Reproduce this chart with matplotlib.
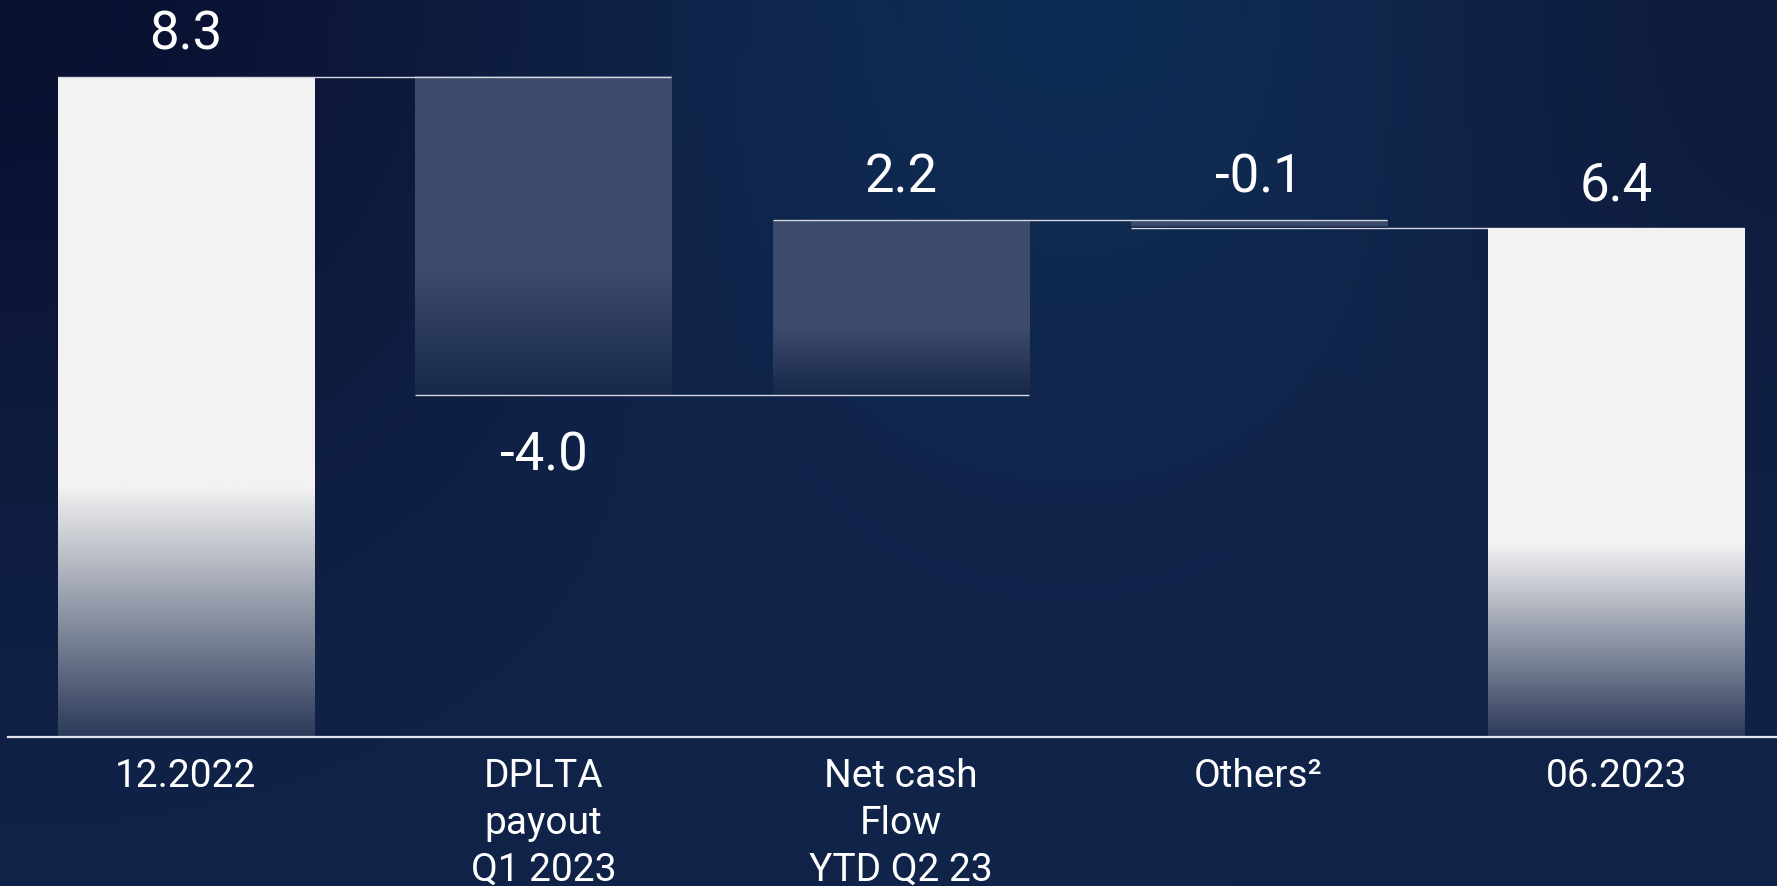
import numpy as np
import matplotlib
matplotlib.use("Agg")
from matplotlib import pyplot as plt
from matplotlib.colors import to_rgb

# data
categories = ["12.2022", "DPLTA\npayout\nQ1 2023", "Net cash\nFlow\nYTD Q2 23", "Others²", "06.2023"]
values = [8.3, -4.0, 2.2, -0.1, 6.4]
is_total = [True, False, False, False, True]
value_labels = ["8.3", "-4.0", "2.2", "-0.1", "6.4"]

plt.rcParams["font.family"] = ["Roboto", "DejaVu Sans"]

fig = plt.figure(figsize=(17.77, 8.86), dpi=100)
ax = fig.add_axes([0, 0, 1, 1])
ax.set_xlim(-0.520, 4.450)
ax.set_ylim(-1.874, 9.27)
ax.axis("off")


def _mix(c1, c2, w):
    c1 = np.array(to_rgb(c1))
    c2 = np.array(to_rgb(c2))
    return c1 * (1 - w[..., None]) + c2 * w[..., None]


def _background():
    """Dark navy backdrop with a lighter patch near the top."""
    h, w = 220, 440
    yy, xx = np.mgrid[0:1:h * 1j, 0:1:w * 1j]
    img = np.ones((h, w, 3)) * np.array(to_rgb("#112349"))
    glow = np.exp(-(((xx - 0.62) / 0.28) ** 2 + ((yy - 0.0) / 0.45) ** 2))
    img = img * (1 - glow[..., None]) + np.array(to_rgb("#0f2d55")) * glow[..., None]
    dark_l = np.exp(-((xx / 0.30) ** 2 + (yy / 0.55) ** 2))
    img = img * (1 - dark_l[..., None]) + np.array(to_rgb("#0a1131")) * dark_l[..., None]
    dark_r = np.exp(-(((1 - xx) / 0.22) ** 2 + (yy / 0.6) ** 2)) * 0.8
    img = img * (1 - dark_r[..., None]) + np.array(to_rgb("#0e1a3b")) * dark_r[..., None]
    ax.imshow(img, extent=[-0.520, 4.450, -1.874, 9.27], aspect="auto",
              origin="upper", zorder=0, interpolation="bilinear")


def _grad_bar(x0, x1, y0, y1, top, bottom, fade=0.38):
    n = 300
    t = np.linspace(0, 1, n)
    f = np.clip((t - (1 - fade)) / fade, 0, 1)
    col = _mix(top, bottom, f)
    img = np.repeat(col[:, None, :], 2, axis=1)
    ax.imshow(img, extent=[x0, x1, y0, y1], aspect="auto", origin="upper",
              zorder=2, interpolation="bilinear")


_background()

width = 0.716
running = 0.0
ends = []
for i, v in enumerate(values):
    x0, x1 = i - width / 2, i + width / 2
    if is_total[i]:
        lo, hi = 0.0, v
        running = v
        _grad_bar(x0, x1, lo, hi, "#f2f2f2", "#2c3a5a")
    else:
        start = running
        running = running + v
        lo, hi = min(start, running), max(start, running)
        _grad_bar(x0, x1, lo, hi, "#3c4a6c", "#17284b")
    ends.append(running)
    if v < 0 and abs(v) > 1:
        ax.text(i, lo - 0.76, value_labels[i], ha="center", va="center",
                color="white", fontsize=38, zorder=5)
    else:
        ax.text(i, hi + 0.53, value_labels[i], ha="center", va="center",
                color="white", fontsize=38, zorder=5)

# connector lines between consecutive bars
for i in range(len(values) - 1):
    lvl = ends[i]
    ax.plot([i - width / 2, i + 1 + width / 2], [lvl, lvl], color="#d3d7de",
            lw=1.0, zorder=3 if not is_total[i + 1] else 1.5, solid_capstyle="butt")

ax.axhline(0, xmin=8 / 1777, xmax=1, color="#e2e5ec", lw=1.6, zorder=4)

for i, c in enumerate(categories):
    ax.text(i, -0.27, c, ha="center", va="top", color="white", fontsize=28,
            linespacing=1.33, zorder=5)

fig.savefig("out.png", dpi=100)
